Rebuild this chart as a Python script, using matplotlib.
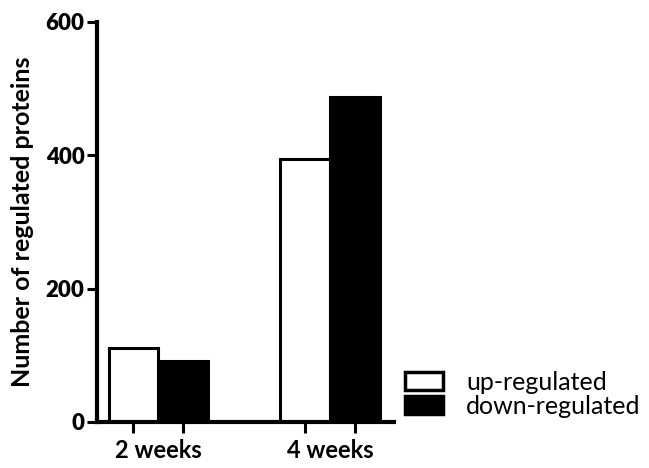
import numpy as np
import matplotlib
matplotlib.use('Agg')
import matplotlib.pyplot as plt
from matplotlib.patches import Patch

# values
groups = ['2 weeks', '4 weeks']
up_regulated = [111, 395]
down_regulated = [92, 487]
series_names = ['up-regulated', 'down-regulated']
y_ticks = [0, 200, 400, 600]

plt.rcParams['font.family'] = ['Lato', 'DejaVu Sans']

fig = plt.figure(figsize=(6.49, 4.68), dpi=100)
ax = fig.add_axes([0.1495, 0.0983, 0.4575, 0.8547])

x = np.arange(len(groups))
w = 0.288
ax.bar(x - w/2, up_regulated, w, color='white', edgecolor='black', linewidth=2.2)
ax.bar(x + w/2, down_regulated, w, color='black', edgecolor='black', linewidth=2.2)

ax.set_xlim(-0.355, 1.372)
ax.set_ylim(0, 600)
ax.set_yticks(y_ticks)
ax.set_yticklabels([str(t) for t in y_ticks], fontsize=16, fontweight='heavy')

# ticks under each bar, labels under each group
ax.set_xticks(np.concatenate([x - w/2, x + w/2]))
ax.set_xticklabels([])
ax.set_xticks(x, minor=True)
ax.set_xticklabels(groups, minor=True, fontsize=17, fontweight='bold')
ax.tick_params(axis='x', which='major', length=8, width=2.2, direction='out')
ax.tick_params(axis='x', which='minor', length=0, pad=12)
ax.tick_params(axis='y', length=7, width=2.2, direction='out', pad=2)

for s in ['top', 'right']:
    ax.spines[s].set_visible(False)
for s in ['left', 'bottom']:
    ax.spines[s].set_linewidth(3)

ax.set_ylabel('Number of regulated proteins', fontsize=18, fontweight='bold', labelpad=8)

handles = [Patch(facecolor='white', edgecolor='black', linewidth=2.5),
           Patch(facecolor='black', edgecolor='black', linewidth=2.5)]
fig.legend(handles, series_names, loc='lower left', bbox_to_anchor=(405/649, 1 - 418/468),
           frameon=False, fontsize=18, handlelength=1.5, handleheight=0.72,
           handletextpad=0.95, labelspacing=0.05, borderpad=0, borderaxespad=0)

fig.savefig('out.png', dpi=100)
